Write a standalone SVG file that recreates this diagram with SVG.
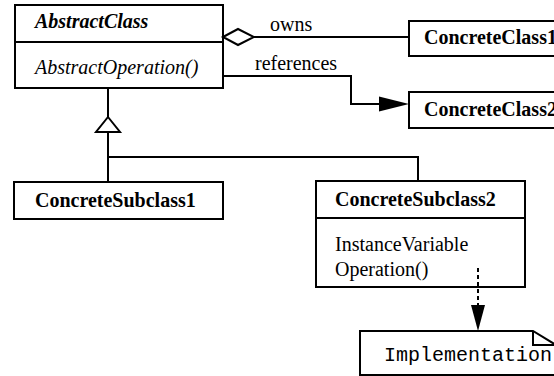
<svg xmlns="http://www.w3.org/2000/svg" width="554" height="376" viewBox="0 0 554 376">
<style>
.box{fill:#fff;stroke:#000;stroke-width:2}
.ln{fill:none;stroke:#000;stroke-width:2}
.t{font-family:"Liberation Serif","Times New Roman",serif;font-size:20px;fill:#000}
.b{font-weight:bold}
.i{font-style:italic}
.m{font-family:"Liberation Mono","Courier New",monospace;font-size:20px;fill:#000}
</style>
<rect width="554" height="376" fill="#fff"/>
<g id="AbstractClass">
  <rect class="box" x="15" y="5" width="208" height="83"/>
  <line class="ln" x1="15" y1="42" x2="223" y2="42"/>
  <text class="t b i" x="35" y="28">AbstractClass</text>
  <text class="t i" x="35" y="74">AbstractOperation()</text>
</g>
<g id="ConcreteClass1">
  <rect class="box" x="409" y="21" width="160" height="35"/>
  <text class="t b" x="424" y="44">ConcreteClass1</text>
</g>
<g id="ConcreteClass2">
  <rect class="box" x="409" y="92" width="160" height="36"/>
  <text class="t b" x="424" y="116">ConcreteClass2</text>
</g>
<g id="ConcreteSubclass1">
  <rect class="box" x="14" y="182" width="209" height="37"/>
  <text class="t b" x="35" y="207">ConcreteSubclass1</text>
</g>
<g id="ConcreteSubclass2">
  <rect class="box" x="316" y="181" width="209" height="106"/>
  <line class="ln" x1="316" y1="218" x2="525" y2="218"/>
  <text class="t b" x="335" y="206">ConcreteSubclass2</text>
  <text class="t" x="335" y="251">InstanceVariable</text>
  <text class="t" x="335" y="276">Operation()</text>
</g>
<g id="Implementation">
  <path class="box" d="M360,331 L533,331 L556,345 L556,375 L360,375 Z"/>
  <polyline class="ln" points="533,331 533,345 556,345"/>
  <text class="m" x="384" y="361">Implementation</text>
</g>
<g id="connectors">
  <!-- owns (aggregation) -->
  <polygon points="223,37 238,29 254,37 238,45" fill="#fff" stroke="#000" stroke-width="2"/>
  <line class="ln" x1="254" y1="37" x2="409" y2="37"/>
  <text class="t" x="270" y="31">owns</text>
  <!-- references -->
  <polyline class="ln" points="223,76 351,76 351,104 380,104"/>
  <polygon points="379,96.5 409,104 379,111.5" fill="#000"/>
  <text class="t" x="255" y="70">references</text>
  <!-- inheritance -->
  <line class="ln" x1="108" y1="88" x2="108" y2="117"/>
  <polygon points="108,117 120,132 96,132" fill="#fff" stroke="#000" stroke-width="2"/>
  <polyline class="ln" points="108,132 108,182"/>
  <polyline class="ln" points="108,157 418,157 418,181"/>
  <!-- dependency to note -->
  <line class="ln" x1="478" y1="268" x2="478" y2="306" stroke-dasharray="4,3"/>
  <polygon points="471,305 485,305 478,331" fill="#000"/>
</g>
</svg>
